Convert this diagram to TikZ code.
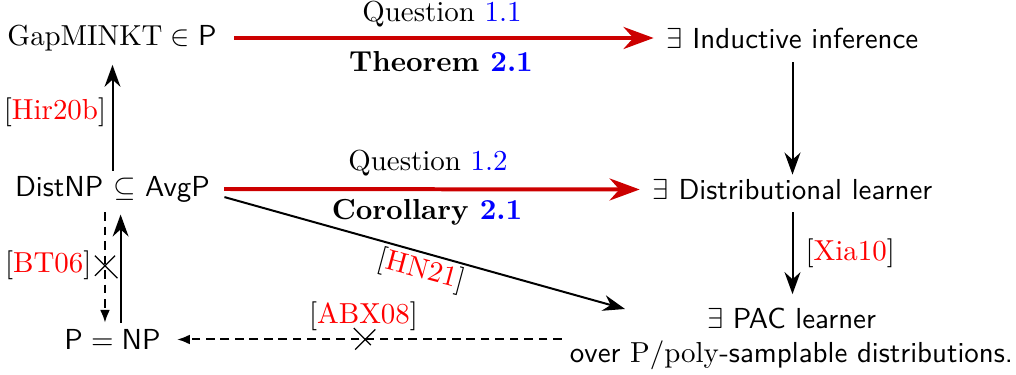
\documentclass[tikz,border=0pt]{standalone}
\usetikzlibrary{arrows.meta,shapes.misc}
\definecolor{myred}{RGB}{204,0,0}
\definecolor{citered}{RGB}{255,0,0}
\newcommand{\mycite}[1]{[\textcolor{citered}{#1}]}
\begin{document}
\begin{tikzpicture}[x=0.3457pt,y=-0.3457pt,
  redarrow/.style={draw=myred,line width=1.38pt,-{Stealth[length=10.4pt,width=7.6pt]}},
  blackarrow/.style={draw=black,line width=0.69pt,-{Stealth[length=7.6pt,width=5.5pt]}},
  dasharrow/.style={draw=black,line width=0.69pt,dash pattern=on 3pt off 2pt,-{Latex[length=4.4pt,width=3.4pt]}},
  crossmark/.style={draw,solid,cross out,minimum size=6.5pt,inner sep=0pt,line width=0.45pt},
  lbl/.style={inner sep=0pt}]
\useasboundingbox (0,0) rectangle (1016,375);
\node (gap) at (112,38) {$\mathrm{GapMINKT}\in\mathsf{P}$};
\node (ind) at (792.5,38) {$\exists$ \textsf{Inductive inference}};
\node (dist) at (112.5,189) {\textsf{DistNP} $\subseteq$ \textsf{AvgP}};
\node (dl) at (792.5,189.5) {$\exists$ \textsf{Distributional learner}};
\node (pnp) at (112.5,339.5) {$\mathsf{P}=\mathsf{NP}$};
\node[align=center] (pac) at (791.5,339) {$\exists$ \textsf{PAC learner}\\ \textsf{over} $\mathrm{P/poly}$\textsf{-samplable distributions.}};
\coordinate (pacin) at (625,309);
% red arrows
\draw[redarrow,shorten <=2.5pt,shorten >=1pt] (gap.east) -- (ind.west);
\node[lbl] (q1) at (442,14) {Question \textcolor{blue}{1.1}};
\node[lbl] (t1) at (441,62) {\textbf{Theorem \textcolor{blue}{2.1}}};
\draw[redarrow,shorten <=1.4pt,shorten >=1pt] (dist.east) -- (dl.west);
\node[lbl] (q2) at (428,163) {Question \textcolor{blue}{1.2}};
\node[lbl] (c2) at (427,212) {\textbf{Corollary \textcolor{blue}{2.1}}};
% right column
\draw[blackarrow,shorten <=1.2pt,shorten >=-1.9pt] (ind.south) -- (dl.north);
\draw[blackarrow,shorten <=0.8pt,shorten >=1.2pt] (dl.south) -- (pac.north -| dl.south);
\node[lbl,anchor=west] (xia) at (805,253.5) {\mycite{Xia10}};
% left column
\draw[blackarrow,shorten <=-1.8pt,shorten >=1.3pt] (dist.north) -- (dist.north |- gap.south);
\node[lbl] (hir) at (55,112) {\mycite{Hir20b}};
\draw[dasharrow,shorten >=-1.2pt] ([xshift=-2.6pt]dist.south) -- ([xshift=-2.6pt]dist.south |- pnp.north)
  node[crossmark,pos=0.5] (x1) {};
\node[lbl,anchor=east] (bt) at ([xshift=-1pt]x1.west) {\mycite{BT06}};
\draw[blackarrow,shorten <=-1.2pt,shorten >=0.8pt] ([xshift=2.8pt]dist.south |- pnp.north) -- ([xshift=2.8pt]dist.south);
% diagonal
\draw[blackarrow] ([yshift=-2.8pt,xshift=1.5pt]dist.east) -- (pacin);
\node[lbl,rotate=-15] (hn) at (421,271) {\mycite{HN21}};
% bottom dashed
\draw[dasharrow,shorten <=-0.7pt,shorten >=2.2pt] (pac.west |- pnp.east) -- (pnp.east)
  node[crossmark,pos=0.5] (x2) {};
\node[lbl] (abx) at (363.5,316.5) {\mycite{ABX08}};
\end{tikzpicture}
\end{document}
